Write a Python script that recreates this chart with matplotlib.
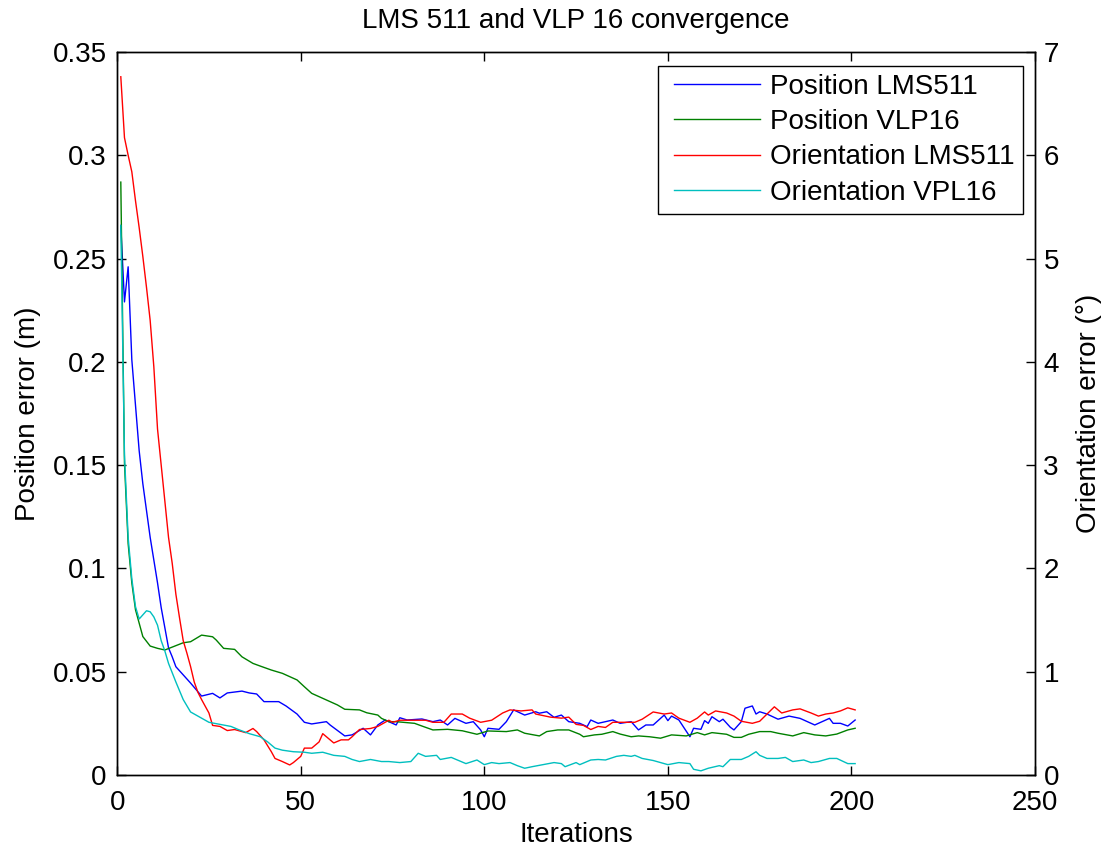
import matplotlib
matplotlib.use("Agg")
import matplotlib.pyplot as plt
from matplotlib.legend_handler import HandlerLine2D

plt.rcParams['font.family'] = ['Liberation Sans', 'DejaVu Sans']

# Position error LMS511 (m)
pos_lms_it = [1, 2, 3, 4, 6, 7, 9, 11, 12, 14,
              15, 16, 20, 23, 26, 28, 30, 34, 36, 38,
              40, 44, 46, 49, 51, 53, 57, 58, 62, 64,
              67, 69, 71, 73, 76, 77, 79, 83, 86, 88,
              90, 92, 95, 97, 99, 100, 101, 104, 106, 108,
              111, 114, 115, 117, 119, 121, 123, 126, 128, 129,
              131, 135, 137, 140, 142, 144, 146, 149, 150, 151,
              153, 156, 157, 159, 160, 161, 162, 164, 165, 167,
              168, 170, 171, 173, 174, 175, 177, 180, 183, 186,
              190, 194, 195, 197, 199, 201]
pos_lms = [0.266, 0.229, 0.246, 0.201, 0.157, 0.141, 0.115, 0.093, 0.081, 0.0615,
           0.0572, 0.0524, 0.0445, 0.0382, 0.0395, 0.0373, 0.0397, 0.0406, 0.0397, 0.0392,
           0.0355, 0.0355, 0.0334, 0.0295, 0.0255, 0.0247, 0.0258, 0.0242, 0.0189, 0.0194,
           0.0226, 0.0194, 0.0242, 0.0266, 0.0242, 0.0277, 0.0266, 0.0271, 0.0258, 0.0266,
           0.0242, 0.0274, 0.025, 0.0258, 0.0218, 0.0185, 0.0226, 0.0221, 0.0258, 0.0315,
           0.029, 0.0306, 0.0299, 0.0306, 0.0279, 0.029, 0.0258, 0.025, 0.0234, 0.0266,
           0.025, 0.0266, 0.025, 0.0258, 0.0218, 0.0242, 0.0242, 0.029, 0.0263, 0.0285,
           0.0266, 0.0185, 0.0226, 0.0221, 0.0263, 0.025, 0.0282, 0.0258, 0.027, 0.0231,
           0.0218, 0.0258, 0.0323, 0.0334, 0.0295, 0.0306, 0.0295, 0.027, 0.0285, 0.0274,
           0.0242, 0.0274, 0.025, 0.025, 0.0237, 0.0266]

# Position error VLP16 (m)
pos_vlp_it = [1, 2, 3, 4, 5, 6, 7, 9, 11, 13,
              18, 20, 23, 26, 27, 29, 32, 34, 37, 39,
              42, 45, 49, 51, 53, 57, 60, 62, 66, 68,
              71, 72, 74, 76, 81, 83, 86, 90, 94, 98,
              101, 106, 109, 111, 115, 117, 120, 123, 126, 127,
              130, 132, 135, 137, 140, 142, 145, 148, 151, 155,
              158, 160, 162, 166, 168, 170, 172, 175, 178, 180,
              184, 187, 190, 193, 196, 199, 201]
pos_vlp = [0.287, 0.151, 0.112, 0.093, 0.08, 0.0735, 0.067, 0.0624, 0.0613, 0.0605,
           0.064, 0.0645, 0.0677, 0.0669, 0.0653, 0.0613, 0.0608, 0.0572, 0.054, 0.0527,
           0.0508, 0.0492, 0.046, 0.0427, 0.0395, 0.0363, 0.0339, 0.0318, 0.0315, 0.0301,
           0.029, 0.0274, 0.0258, 0.0258, 0.025, 0.0237, 0.0218, 0.0221, 0.0214, 0.0197,
           0.0213, 0.021, 0.0218, 0.0202, 0.0189, 0.021, 0.0218, 0.0218, 0.0197, 0.0185,
           0.0194, 0.0197, 0.021, 0.0198, 0.0185, 0.0189, 0.0185, 0.0178, 0.0194, 0.0189,
           0.0205, 0.0194, 0.0205, 0.0197, 0.0182, 0.0182, 0.0197, 0.021, 0.021, 0.0202,
           0.0189, 0.0205, 0.0194, 0.0189, 0.0198, 0.0218, 0.0226]

# Orientation error LMS511 (deg)
ori_lms_it = [1, 2, 3, 4, 5, 6, 7, 8, 9, 10,
              11, 12, 13, 14, 15, 16, 17, 18, 19, 20,
              21, 22, 23, 25, 26, 28, 30, 32, 35, 37,
              38, 40, 42, 43, 45, 47, 48, 50, 51, 53,
              55, 56, 59, 61, 63, 64, 66, 69, 71, 74,
              75, 77, 81, 84, 86, 89, 91, 94, 96, 99,
              102, 105, 107, 110, 113, 114, 118, 121, 123, 125,
              127, 129, 131, 133, 135, 138, 141, 143, 146, 149,
              151, 153, 156, 158, 160, 161, 163, 166, 168, 170,
              173, 175, 177, 179, 181, 184, 186, 189, 191, 193,
              195, 197, 199, 201]
ori_lms = [6.76, 6.17, 6.0, 5.84, 5.56, 5.3, 5.02, 4.72, 4.4, 3.95,
           3.35, 3.0, 2.65, 2.3, 2.05, 1.75, 1.52, 1.3, 1.18, 1.05,
           0.9, 0.8, 0.73, 0.6, 0.48, 0.47, 0.43, 0.44, 0.41, 0.45,
           0.42, 0.34, 0.225, 0.16, 0.13, 0.097, 0.12, 0.18, 0.26, 0.26,
           0.32, 0.4, 0.31, 0.34, 0.34, 0.37, 0.44, 0.45, 0.47, 0.53,
           0.51, 0.53, 0.53, 0.53, 0.51, 0.51, 0.59, 0.59, 0.55, 0.51,
           0.53, 0.6, 0.63, 0.62, 0.63, 0.59, 0.56, 0.55, 0.56, 0.49,
           0.48, 0.44, 0.47, 0.46, 0.51, 0.51, 0.51, 0.54, 0.61, 0.59,
           0.6, 0.55, 0.51, 0.55, 0.61, 0.58, 0.62, 0.6, 0.57, 0.52,
           0.5, 0.52, 0.59, 0.66, 0.6, 0.63, 0.64, 0.6, 0.57, 0.59,
           0.6, 0.62, 0.65, 0.63]

# Orientation error VPL16 (deg)
ori_vlp_it = [1, 2, 3, 4, 5, 6, 7, 8, 9, 10,
              11, 12, 13, 14, 16, 18, 20, 23, 25, 28,
              31, 33, 36, 39, 41, 43, 45, 48, 51, 53,
              56, 59, 62, 64, 66, 69, 72, 74, 77, 80,
              82, 84, 87, 88, 91, 95, 98, 100, 102, 104,
              107, 109, 111, 113, 116, 119, 121, 122, 125, 126,
              129, 131, 133, 136, 138, 140, 141, 143, 146, 147,
              150, 153, 156, 157, 159, 161, 164, 165, 167, 170,
              172, 174, 175, 177, 180, 182, 184, 187, 189, 191,
              194, 196, 199, 201]
ori_vlp = [5.32, 3.1, 2.3, 1.9, 1.63, 1.51, 1.55, 1.59, 1.58, 1.53,
           1.45, 1.3, 1.2, 1.08, 0.9, 0.73, 0.61, 0.55, 0.51, 0.49,
           0.47, 0.44, 0.4, 0.37, 0.32, 0.26, 0.24, 0.225, 0.22, 0.21,
           0.22, 0.19, 0.18, 0.15, 0.13, 0.15, 0.13, 0.13, 0.12, 0.13,
           0.21, 0.18, 0.19, 0.15, 0.17, 0.11, 0.145, 0.1, 0.12, 0.11,
           0.12, 0.09, 0.065, 0.08, 0.1, 0.12, 0.11, 0.08, 0.12, 0.1,
           0.145, 0.15, 0.145, 0.18, 0.19, 0.18, 0.19, 0.16, 0.14, 0.13,
           0.1, 0.12, 0.11, 0.055, 0.04, 0.065, 0.09, 0.08, 0.15, 0.15,
           0.18, 0.225, 0.19, 0.16, 0.16, 0.17, 0.13, 0.145, 0.12, 0.13,
           0.16, 0.16, 0.11, 0.11]


class ShiftedLine(HandlerLine2D):
    # keeps the handle box but starts the sample line a bit to the right
    def create_artists(self, legend, orig_handle, xdescent, ydescent,
                       width, height, fontsize, trans):
        d = 0.3 * fontsize
        return super().create_artists(legend, orig_handle, xdescent - d, ydescent,
                                      width - d, height, fontsize, trans)


fig = plt.figure(figsize=(11.05, 8.49), dpi=100)
ax = fig.add_axes([0.106, 0.0872, 0.8307, 0.8516])
ax2 = ax.twinx()

l1, = ax.plot(pos_lms_it, pos_lms, color=(0, 0, 1), lw=1.0, label='Position LMS511')
l2, = ax.plot(pos_vlp_it, pos_vlp, color=(0, 0.5, 0), lw=1.0, label='Position VLP16')
l3, = ax2.plot(ori_lms_it, ori_lms, color=(1, 0, 0), lw=1.0, label='Orientation LMS511')
l4, = ax2.plot(ori_vlp_it, ori_vlp, color=(0, 0.75, 0.75), lw=1.0, label='Orientation VPL16')

ax.set_xlim(0, 250)
ax.set_ylim(0, 0.35)
ax2.set_ylim(0, 7)
ax.set_xticks([0, 50, 100, 150, 200, 250])
ax.set_yticks([0, 0.05, 0.1, 0.15, 0.2, 0.25, 0.3, 0.35])
ax.set_yticklabels(['0', '0.05', '0.1', '0.15', '0.2', '0.25', '0.3', '0.35'])
ax2.set_yticks(range(0, 8))

ax.tick_params(axis='x', direction='in', length=6.5, width=1.0, labelsize=20, top=True, pad=11)
ax.tick_params(axis='y', direction='in', length=6.5, width=1.0, labelsize=20, right=False, pad=7.5)
ax2.tick_params(axis='y', direction='in', length=6.5, width=1.0, labelsize=20, pad=6)
for a in (ax, ax2):
    for s in a.spines.values():
        s.set_linewidth(1.0)

ax.set_xlabel('Iterations', fontsize=20, labelpad=4)
ax.set_ylabel('Position error (m)', fontsize=20, labelpad=8)
ax2.set_ylabel('Orientation error (°)', fontsize=20, rotation=90, labelpad=12)
ax.set_title('LMS 511 and VLP 16 convergence', fontsize=20, pad=17)

leg = ax2.legend(handles=[l1, l2, l3, l4], loc='upper right',
                 bbox_to_anchor=(0.987, 0.981), borderaxespad=0, fontsize=20,
                 fancybox=False, edgecolor='black', framealpha=1,
                 handlelength=3.4, handletextpad=0.35, labelspacing=0.33, borderpad=0.3,
                 handler_map={matplotlib.lines.Line2D: ShiftedLine()})
leg.get_frame().set_linewidth(1.0)

fig.savefig('out.png', dpi=100)
